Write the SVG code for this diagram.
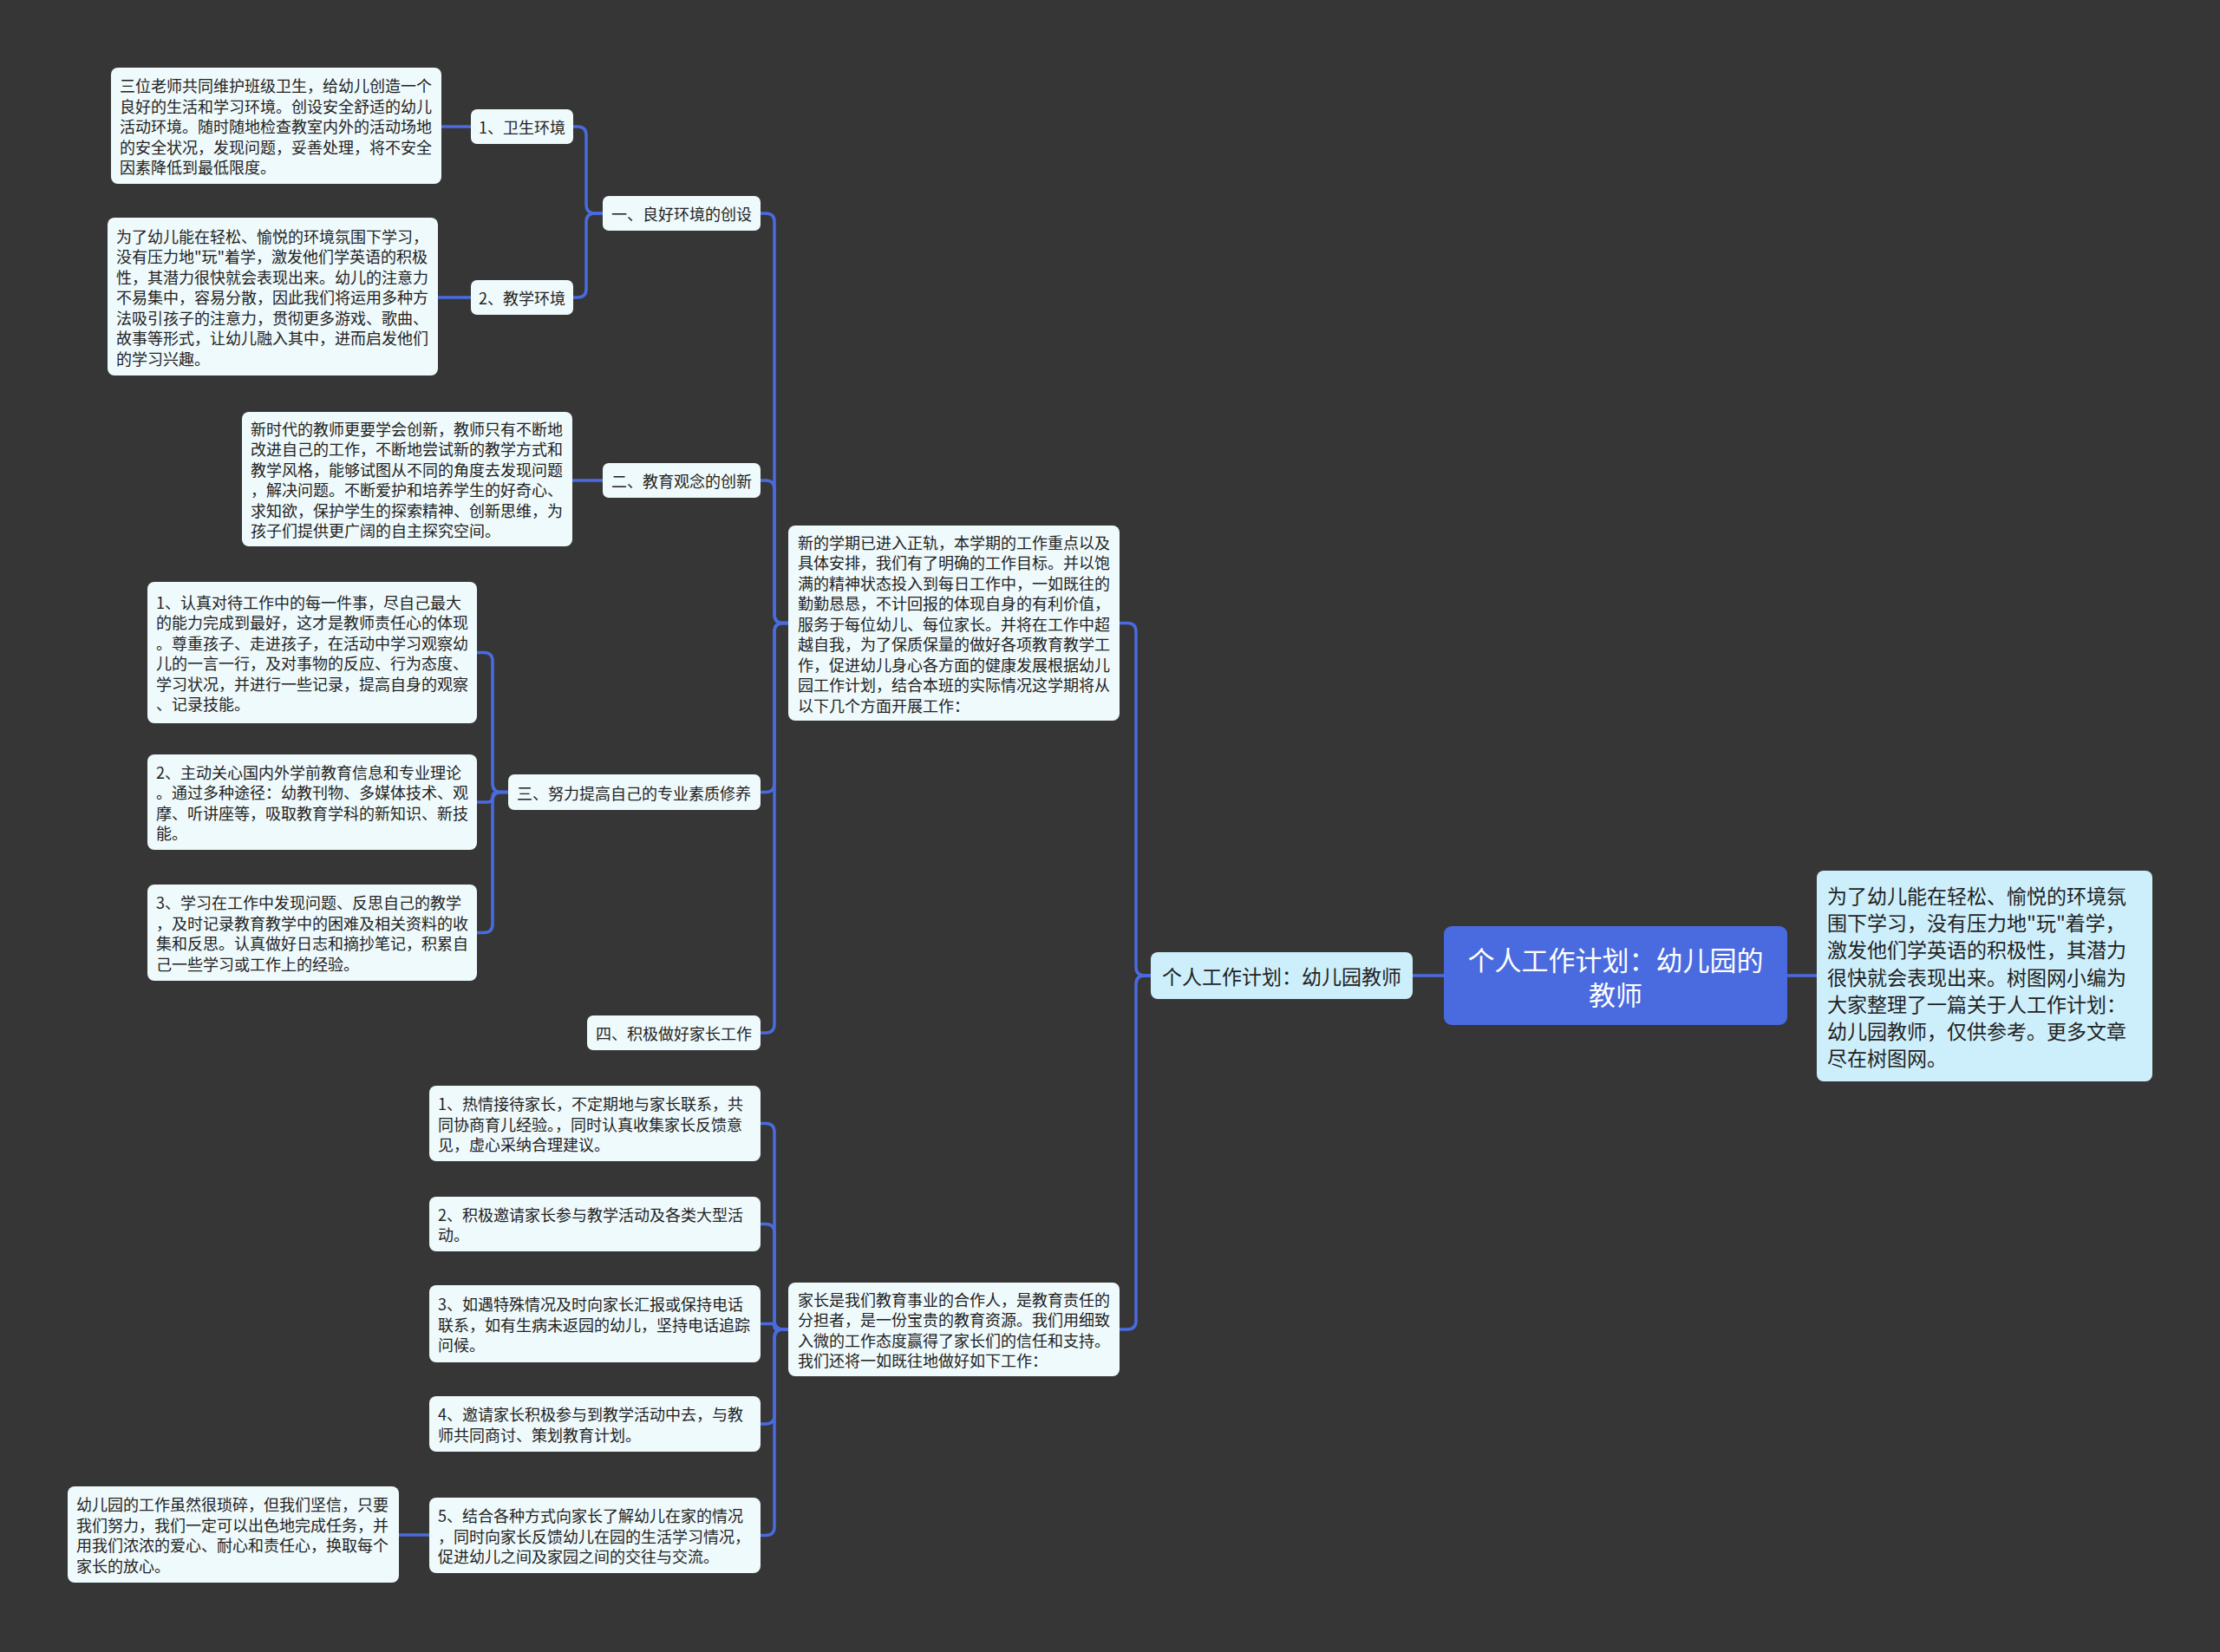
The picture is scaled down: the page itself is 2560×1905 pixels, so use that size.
<svg xmlns="http://www.w3.org/2000/svg" width="2560" height="1905" viewBox="0 0 2560 1905">
<style>
.bg{fill:#363636}
.leaf{fill:#EFFAFC}
.sub{fill:#CDEFFC}
.root{fill:#4A6BDF}
.t{font-family:"Noto Sans CJK SC","Noto Sans",sans-serif;font-size:18px;fill:#222;dominant-baseline:central}
.t23{font-family:"Noto Sans CJK SC","Noto Sans",sans-serif;font-size:23px;fill:#222;dominant-baseline:central}
.tr{font-family:"Noto Sans CJK SC","Noto Sans",sans-serif;font-size:31px;fill:#fff;dominant-baseline:central;text-anchor:middle}
.c{fill:none;stroke:#4A6BDF;stroke-width:3.5;stroke-linecap:round}
</style>
<rect class="bg" x="0" y="0" width="2560" height="1905"/>

<g id="connectors">
<path class="c" d="M1629,1125 H1665"/>
<path class="c" d="M2061,1125 H2095"/>
<path class="c" d="M1291,718.5 H1300 Q1310,718.5 1310,728.5 V1115 Q1310,1125 1320,1125 H1327"/>
<path class="c" d="M1291,1533 H1300 Q1310,1533 1310,1523 V1135 Q1310,1125 1320,1125 H1327"/>
<path class="c" d="M877,246 H883 Q893,246 893,256 V708.5 Q893,718.5 903,718.5 H909"/>
<path class="c" d="M877,554 H883 Q893,554 893,564 V708.5 Q893,718.5 903,718.5 H909"/>
<path class="c" d="M877,913.5 H883 Q893,913.5 893,903.5 V728.5 Q893,718.5 903,718.5 H909"/>
<path class="c" d="M877,1191 H883 Q893,1191 893,1181 V728.5 Q893,718.5 903,718.5 H909"/>
<path class="c" d="M661,146 H666 Q676,146 676,156 V236 Q676,246 686,246 H695"/>
<path class="c" d="M661,343 H666 Q676,343 676,333 V256 Q676,246 686,246 H695"/>
<path class="c" d="M509,146 H543"/>
<path class="c" d="M505,343 H543"/>
<path class="c" d="M660,554 H695"/>
<path class="c" d="M550,752.5 H558 Q568,752.5 568,762.5 V903.5 Q568,913.5 578,913.5 H586"/>
<path class="c" d="M550,925 H562.25 Q568,925 568,919.25 Q568,913.5 573.75,913.5 H586"/>
<path class="c" d="M550,1075.5 H558 Q568,1075.5 568,1065.5 V923.5 Q568,913.5 578,913.5 H586"/>
<path class="c" d="M877,1295.5 H883 Q893,1295.5 893,1305.5 V1523 Q893,1533 903,1533 H909"/>
<path class="c" d="M877,1411.5 H883 Q893,1411.5 893,1421.5 V1523 Q893,1533 903,1533 H909"/>
<path class="c" d="M877,1526.5 H889.75 Q893,1526.5 893,1529.75 Q893,1533 896.25,1533 H909"/>
<path class="c" d="M877,1642 H883 Q893,1642 893,1632 V1543 Q893,1533 903,1533 H909"/>
<path class="c" d="M877,1770.5 H883 Q893,1770.5 893,1760.5 V1543 Q893,1533 903,1533 H909"/>
<path class="c" d="M460,1770 H495"/>
</g>

<g id="root">
<rect class="root" x="1665" y="1068" width="396" height="114" rx="9"/>
<text class="tr" x="1863" y="1105">个人工作计划：幼儿园的</text>
<text class="tr" x="1863" y="1145">教师</text>
</g>

<g id="summary">
<rect class="sub" x="2095" y="1004" width="387" height="243" rx="8"/>
<text class="t23" x="2107" y="1031.6">为了幼儿能在轻松、愉悦的环境氛</text>
<text class="t23" x="2107" y="1062.9">围下学习，没有压力地"玩"着学，</text>
<text class="t23" x="2107" y="1094.2">激发他们学英语的积极性，其潜力</text>
<text class="t23" x="2107" y="1125.5">很快就会表现出来。树图网小编为</text>
<text class="t23" x="2107" y="1156.8">大家整理了一篇关于人工作计划：</text>
<text class="t23" x="2107" y="1188.1">幼儿园教师，仅供参考。更多文章</text>
<text class="t23" x="2107" y="1219.4">尽在树图网。</text>
</g>

<g id="main">
<rect class="sub" x="1327" y="1098" width="302" height="54" rx="8"/>
<text class="t23" x="1340" y="1125">个人工作计划：幼儿园教师</text>
</g>

<g id="intro">
<rect class="leaf" x="909" y="606" width="382" height="225" rx="8"/>
<text class="t" x="920" y="624.5">新的学期已进入正轨，本学期的工作重点以及</text>
<text class="t" x="920" y="648">具体安排，我们有了明确的工作目标。并以饱</text>
<text class="t" x="920" y="671.5">满的精神状态投入到每日工作中，一如既往的</text>
<text class="t" x="920" y="695">勤勤恳恳，不计回报的体现自身的有利价值，</text>
<text class="t" x="920" y="718.5">服务于每位幼儿、每位家长。并将在工作中超</text>
<text class="t" x="920" y="742">越自我，为了保质保量的做好各项教育教学工</text>
<text class="t" x="920" y="765.5">作，促进幼儿身心各方面的健康发展根据幼儿</text>
<text class="t" x="920" y="789">园工作计划，结合本班的实际情况这学期将从</text>
<text class="t" x="920" y="812.5">以下几个方面开展工作：</text>
</g>

<g id="parents">
<rect class="leaf" x="909" y="1479" width="382" height="108" rx="8"/>
<text class="t" x="920" y="1497.75">家长是我们教育事业的合作人，是教育责任的</text>
<text class="t" x="920" y="1521.25">分担者，是一份宝贵的教育资源。我们用细致</text>
<text class="t" x="920" y="1544.75">入微的工作态度赢得了家长们的信任和支持。</text>
<text class="t" x="920" y="1568.25">我们还将一如既往地做好如下工作：</text>
</g>

<g id="s1">
<rect class="leaf" x="695" y="226" width="182" height="40" rx="7"/>
<text class="t" x="705" y="246">一、良好环境的创设</text>
</g>
<g id="s1a">
<rect class="leaf" x="543" y="126" width="118" height="40" rx="7"/>
<text class="t" x="552" y="146">1、卫生环境</text>
</g>
<g id="s1a-leaf">
<rect class="leaf" x="128" y="78" width="381" height="134" rx="8"/>
<text class="t" x="138" y="98">三位老师共同维护班级卫生，给幼儿创造一个</text>
<text class="t" x="138" y="121.5">良好的生活和学习环境。创设安全舒适的幼儿</text>
<text class="t" x="138" y="145">活动环境。随时随地检查教室内外的活动场地</text>
<text class="t" x="138" y="168.5">的安全状况，发现问题，妥善处理，将不安全</text>
<text class="t" x="138" y="192">因素降低到最低限度。</text>
</g>
<g id="s1b">
<rect class="leaf" x="543" y="323" width="118" height="40" rx="7"/>
<text class="t" x="552" y="343">2、教学环境</text>
</g>
<g id="s1b-leaf">
<rect class="leaf" x="124" y="251" width="381" height="182" rx="8"/>
<text class="t" x="134" y="271.5">为了幼儿能在轻松、愉悦的环境氛围下学习，</text>
<text class="t" x="134" y="295">没有压力地"玩"着学，激发他们学英语的积极</text>
<text class="t" x="134" y="318.5">性，其潜力很快就会表现出来。幼儿的注意力</text>
<text class="t" x="134" y="342">不易集中，容易分散，因此我们将运用多种方</text>
<text class="t" x="134" y="365.5">法吸引孩子的注意力，贯彻更多游戏、歌曲、</text>
<text class="t" x="134" y="389">故事等形式，让幼儿融入其中，进而启发他们</text>
<text class="t" x="134" y="412.5">的学习兴趣。</text>
</g>

<g id="s2">
<rect class="leaf" x="695" y="534" width="182" height="40" rx="7"/>
<text class="t" x="705" y="554">二、教育观念的创新</text>
</g>
<g id="s2-leaf">
<rect class="leaf" x="279" y="475" width="381" height="155" rx="8"/>
<text class="t" x="289" y="493.75">新时代的教师更要学会创新，教师只有不断地</text>
<text class="t" x="289" y="517.25">改进自己的工作，不断地尝试新的教学方式和</text>
<text class="t" x="289" y="540.75">教学风格，能够试图从不同的角度去发现问题</text>
<text class="t" x="289" y="564.25">，解决问题。不断爱护和培养学生的好奇心、</text>
<text class="t" x="289" y="587.75">求知欲，保护学生的探索精神、创新思维，为</text>
<text class="t" x="289" y="611.25">孩子们提供更广阔的自主探究空间。</text>
</g>

<g id="s3">
<rect class="leaf" x="586" y="893" width="291" height="41" rx="7"/>
<text class="t" x="596" y="913.5">三、努力提高自己的专业素质修养</text>
</g>
<g id="s3a">
<rect class="leaf" x="170" y="671" width="380" height="163" rx="8"/>
<text class="t" x="180" y="693.75">1、认真对待工作中的每一件事，尽自己最大</text>
<text class="t" x="180" y="717.25">的能力完成到最好，这才是教师责任心的体现</text>
<text class="t" x="180" y="740.75">。尊重孩子、走进孩子，在活动中学习观察幼</text>
<text class="t" x="180" y="764.25">儿的一言一行，及对事物的反应、行为态度、</text>
<text class="t" x="180" y="787.75">学习状况，并进行一些记录，提高自身的观察</text>
<text class="t" x="180" y="811.25">、记录技能。</text>
</g>
<g id="s3b">
<rect class="leaf" x="170" y="870" width="380" height="110" rx="8"/>
<text class="t" x="180" y="889.75">2、主动关心国内外学前教育信息和专业理论</text>
<text class="t" x="180" y="913.25">。通过多种途径：幼教刊物、多媒体技术、观</text>
<text class="t" x="180" y="936.75">摩、听讲座等，吸取教育学科的新知识、新技</text>
<text class="t" x="180" y="960.25">能。</text>
</g>
<g id="s3c">
<rect class="leaf" x="170" y="1020" width="380" height="111" rx="8"/>
<text class="t" x="180" y="1040.25">3、学习在工作中发现问题、反思自己的教学</text>
<text class="t" x="180" y="1063.75">，及时记录教育教学中的困难及相关资料的收</text>
<text class="t" x="180" y="1087.25">集和反思。认真做好日志和摘抄笔记，积累自</text>
<text class="t" x="180" y="1110.75">己一些学习或工作上的经验。</text>
</g>

<g id="s4">
<rect class="leaf" x="677" y="1171" width="200" height="40" rx="7"/>
<text class="t" x="687" y="1191">四、积极做好家长工作</text>
</g>

<g id="p1">
<rect class="leaf" x="495" y="1252" width="382" height="87" rx="8"/>
<text class="t" x="505" y="1272">1、热情接待家长，不定期地与家长联系，共</text>
<text class="t" x="505" y="1295.5">同协商育儿经验。，同时认真收集家长反馈意</text>
<text class="t" x="505" y="1319">见，虚心采纳合理建议。</text>
</g>
<g id="p2">
<rect class="leaf" x="495" y="1380" width="382" height="63" rx="8"/>
<text class="t" x="505" y="1399.75">2、积极邀请家长参与教学活动及各类大型活</text>
<text class="t" x="505" y="1423.25">动。</text>
</g>
<g id="p3">
<rect class="leaf" x="495" y="1482" width="382" height="89" rx="8"/>
<text class="t" x="505" y="1503">3、如遇特殊情况及时向家长汇报或保持电话</text>
<text class="t" x="505" y="1526.5">联系，如有生病未返园的幼儿，坚持电话追踪</text>
<text class="t" x="505" y="1550">问候。</text>
</g>
<g id="p4">
<rect class="leaf" x="495" y="1610" width="382" height="64" rx="8"/>
<text class="t" x="505" y="1630.25">4、邀请家长积极参与到教学活动中去，与教</text>
<text class="t" x="505" y="1653.75">师共同商讨、策划教育计划。</text>
</g>
<g id="p5">
<rect class="leaf" x="495" y="1727" width="382" height="87" rx="8"/>
<text class="t" x="505" y="1747">5、结合各种方式向家长了解幼儿在家的情况</text>
<text class="t" x="505" y="1770.5">，同时向家长反馈幼儿在园的生活学习情况，</text>
<text class="t" x="505" y="1794">促进幼儿之间及家园之间的交往与交流。</text>
</g>
<g id="p5-leaf">
<rect class="leaf" x="78" y="1714" width="382" height="111" rx="8"/>
<text class="t" x="88" y="1734.25">幼儿园的工作虽然很琐碎，但我们坚信，只要</text>
<text class="t" x="88" y="1757.75">我们努力，我们一定可以出色地完成任务，并</text>
<text class="t" x="88" y="1781.25">用我们浓浓的爱心、耐心和责任心，换取每个</text>
<text class="t" x="88" y="1804.75">家长的放心。</text>
</g>
</svg>
